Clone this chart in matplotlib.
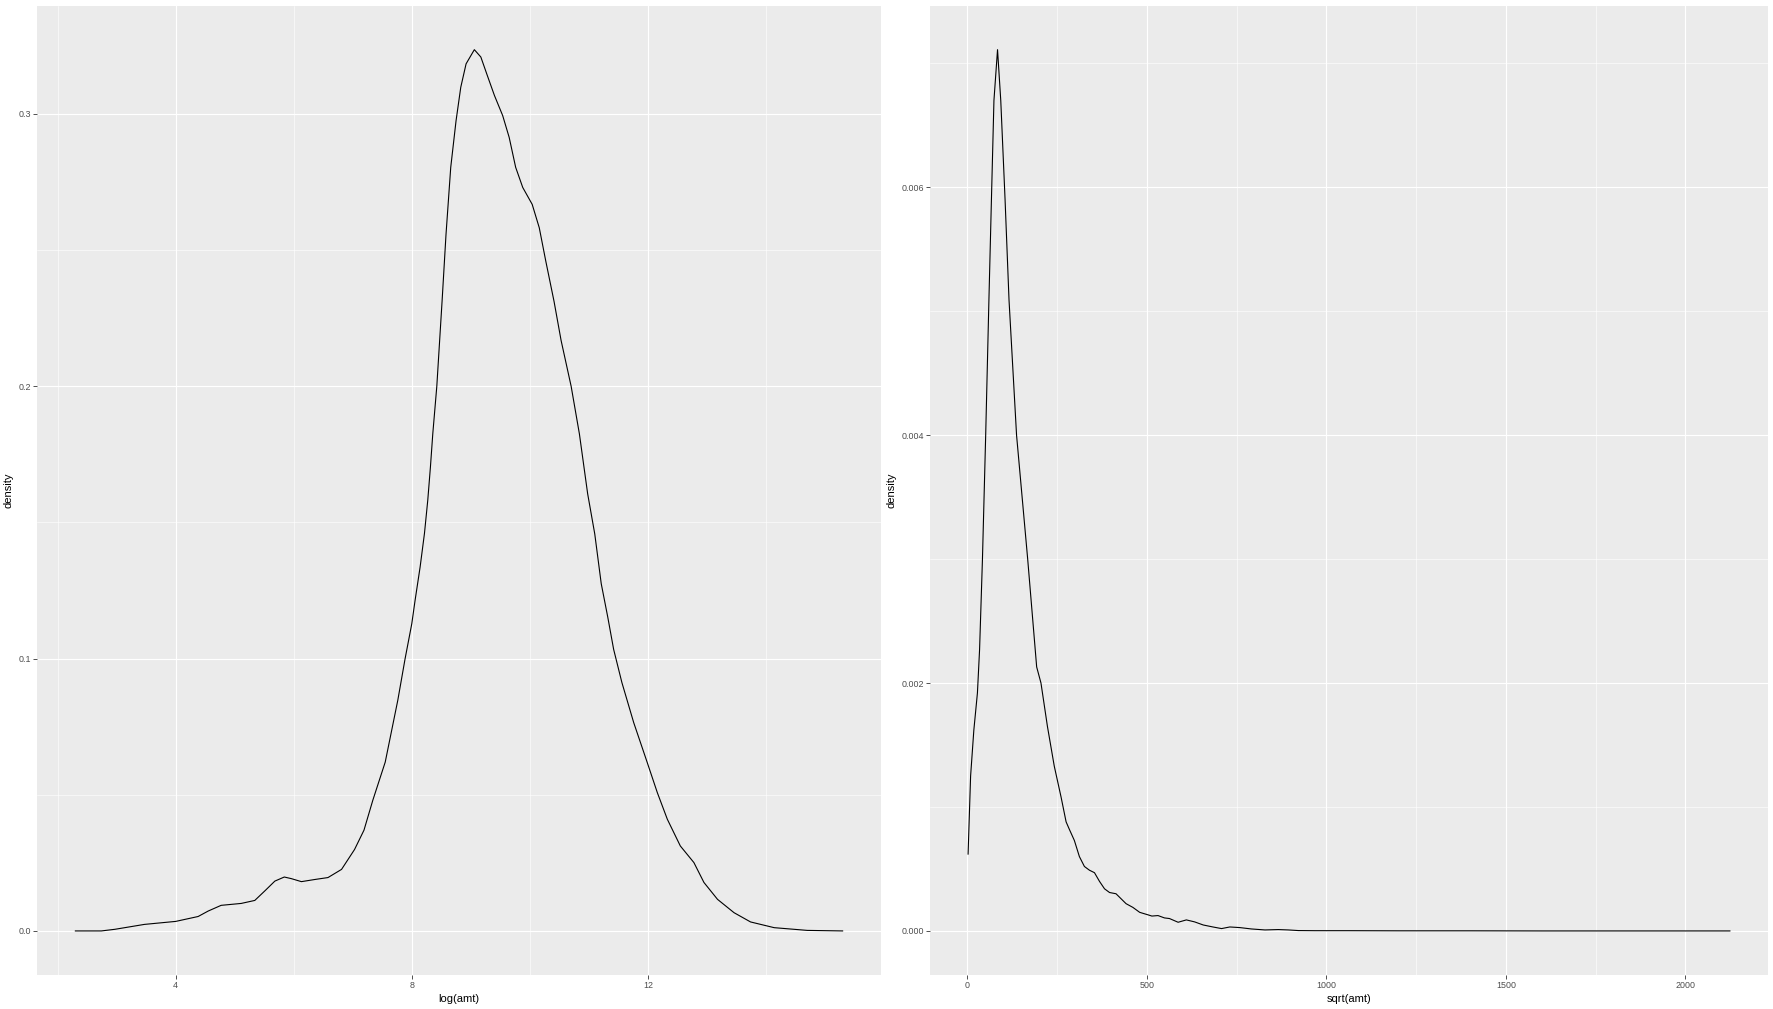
import numpy as np
import matplotlib
matplotlib.use('Agg')
import matplotlib.pyplot as plt
from matplotlib.ticker import MultipleLocator

plt.rcParams['font.family'] = ['Liberation Sans Narrow', 'Liberation Sans', 'DejaVu Sans']

# density of log(amt)
log_x = [2.30, 2.74, 2.97, 3.47, 4.0, 4.38, 4.55, 4.77, 5.11, 5.34, 5.51, 5.68, 5.84, 5.96,
         6.13, 6.36, 6.58, 6.81, 7.03, 7.19, 7.34, 7.55, 7.763, 7.887, 8.0, 8.056, 8.141,
         8.215, 8.271, 8.316, 8.356, 8.424, 8.514, 8.58, 8.66, 8.75, 8.83, 8.92, 9.06, 9.17,
         9.28, 9.40, 9.54, 9.65, 9.76, 9.88, 10.04, 10.16, 10.27, 10.41, 10.53, 10.70, 10.84,
         10.98, 11.10, 11.21, 11.32, 11.42, 11.56, 11.76, 11.99, 12.16, 12.33, 12.55, 12.78,
         12.95, 13.18, 13.46, 13.74, 14.14, 14.70, 15.30]
log_y = [0, 0, 0.0006, 0.0024, 0.0035, 0.0053, 0.0073, 0.0094, 0.0101, 0.0112, 0.0147, 0.0183,
         0.0198, 0.0192, 0.0181, 0.0189, 0.0196, 0.0226, 0.0299, 0.037, 0.048, 0.062, 0.0847,
         0.1, 0.1128, 0.1214, 0.1336, 0.146, 0.1582, 0.1704, 0.1826, 0.2, 0.2315, 0.2558,
         0.2804, 0.2975, 0.3098, 0.3184, 0.3236, 0.3209, 0.3141, 0.3068, 0.2994, 0.2914,
         0.2804, 0.2730, 0.2668, 0.2582, 0.2460, 0.2312, 0.2168, 0.2, 0.1825, 0.1605, 0.1458,
         0.1275, 0.1153, 0.1034, 0.0912, 0.0765, 0.0618, 0.0508, 0.0410, 0.0312, 0.0251,
         0.0178, 0.0116, 0.0067, 0.0033, 0.0012, 0.0002, 0]

# density of sqrt(amt)
sqrt_x = [2, 9, 18, 28, 34, 42, 51, 60, 67, 74, 84, 93, 105, 116, 137, 168, 193, 205, 223,
          242, 261, 275, 284, 298, 312, 326, 340, 354, 368, 382, 396, 414, 428, 442, 461, 480,
          503, 514, 531, 549, 563, 587, 610, 633, 657, 684, 708, 731, 759, 791, 829, 866, 894,
          922, 968, 1061, 1200, 1400, 1600, 1800, 2000, 2124]
sqrt_y = [0.00062, 0.00125, 0.00162, 0.00192, 0.00227, 0.0030, 0.0040, 0.00509, 0.0059,
          0.0067, 0.00711, 0.0067, 0.0059, 0.00509, 0.0040, 0.0030, 0.00213, 0.0020, 0.00165,
          0.00133, 0.00108, 0.00088, 0.00082, 0.00073, 0.0006, 0.00052, 0.00049, 0.00047,
          0.0004, 0.00034, 0.00031, 0.0003, 0.00026, 0.00022, 0.00019, 0.00015, 0.00013,
          0.00012, 0.000124, 0.000105, 0.0001, 0.00007, 0.000089, 0.000073, 0.000048,
          0.000032, 0.000019, 0.000032, 0.000027, 0.000016, 0.000008, 0.000011, 0.000008,
          0.000003, 0.000002, 0.000002, 0.000001, 0.000001, 0, 0, 0, 0]

panels = [
    (log_x, log_y, 'log(amt)', [4, 8, 12], 2, [0.0, 0.1, 0.2, 0.3], 0.05, '{:.1f}'),
    (sqrt_x, sqrt_y, 'sqrt(amt)', [0, 500, 1000, 1500, 2000], 250,
     [0.0, 0.002, 0.004, 0.006], 0.001, '{:.3f}'),
]

W, H = 1774, 1009
fig = plt.figure(figsize=(W / 100, H / 100), dpi=100)
boxes = [(37, 881), (930, 1768)]
top, bottom = 5.6, 975

for (x, y, xlab, xt, xminor, yt, yminor, fmt), (l, r) in zip(panels, boxes):
    ax = fig.add_axes([l / W, (H - bottom) / H, (r - l) / W, (bottom - top) / H])
    ax.set_facecolor('#EBEBEB')
    ax.plot(x, y, color='black', lw=0.8, solid_joinstyle='round')

    # ggplot-like 5% expansion
    xr = max(x) - min(x)
    yr = max(y) - min(y)
    ax.set_xlim(min(x) - 0.05 * xr, max(x) + 0.05 * xr)
    ax.set_ylim(min(y) - 0.05 * yr, max(y) + 0.05 * yr)

    ax.set_xticks(xt)
    ax.set_yticks(yt)
    ax.set_yticklabels([fmt.format(v) for v in yt])
    ax.xaxis.set_minor_locator(MultipleLocator(xminor))
    ax.yaxis.set_minor_locator(MultipleLocator(yminor))
    ax.grid(which='major', color='white', lw=0.8)
    ax.grid(which='minor', color='white', lw=0.4)
    ax.set_axisbelow(True)
    for s in ax.spines.values():
        s.set_visible(False)
    ax.tick_params(which='major', length=2.75, width=0.6, color='#333333',
                   labelsize=6.4, labelcolor='#4D4D4D', pad=1.5)
    ax.tick_params(which='minor', length=0)
    ax.set_xlabel(xlab, fontsize=8, labelpad=3)
    ax.set_ylabel('density', fontsize=8, labelpad=4)

fig.savefig('out.png', dpi=100, facecolor='white')
